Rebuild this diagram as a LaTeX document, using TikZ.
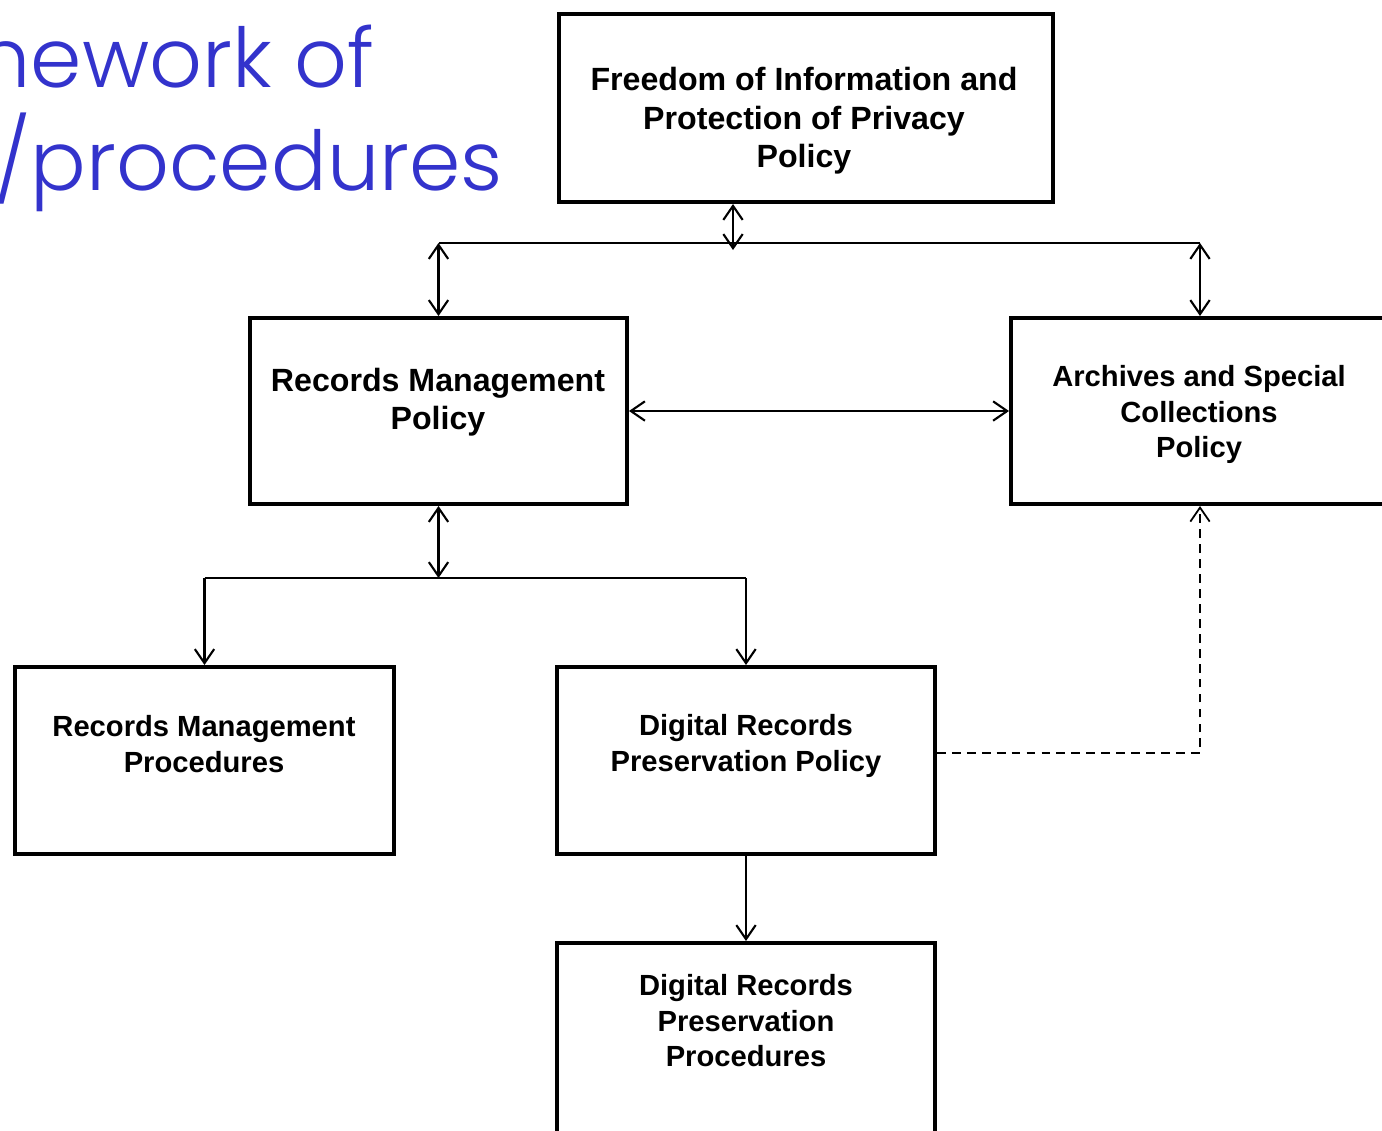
\documentclass[tikz,border=0pt]{standalone}
\usepackage{fontspec}
\setmainfont{Liberation Sans}
\newfontfamily\titlefont{Poppins}[UprightFont={* Light}]
\usepackage{xcolor}
\usetikzlibrary{arrows.meta,positioning}
\definecolor{titleblue}{RGB}{51,51,204}
\tikzset{%
	box/.style      = {draw, rectangle, line width=2.3pt, minimum width=7.56cm, minimum height=3.74cm},
	boxtext/.style  = {align=center, inner sep=0pt, font=\bfseries\fontsize{16.6}{20.2}\selectfont},
	bigtext/.style  = {boxtext, font=\bfseries\fontsize{18.3}{21.9}\selectfont},
	title/.style    = {inner sep=0pt, text=titleblue, font=\titlefont\fontsize{47}{56}\selectfont},
	link/.style     = {line width=1.2pt},
	dlink/.style    = {link, {Straight Barb[length=8pt,width=11pt]}-{Straight Barb[length=8pt,width=11pt]}},
	arrowto/.style  = {link, -{Straight Barb[length=8pt,width=11pt]}},
	dashlink/.style = {line width=1pt, dash pattern=on 5pt off 3.5pt, -{Straight Barb[length=8pt,width=11pt]}},
}
\begin{document}
\begin{tikzpicture}[x=0.02cm,y=-0.02cm]
			\clip (0,0) rectangle (1382,1130);
			% title
			\node[title, anchor=base east] (titletop) at (375,87) {nework of};
			\node[title, anchor=base east] (titlebot) at (503,190) {/procedures};
			% boxes
			\node[box, minimum width=9.88cm, minimum height=3.76cm] (foi) at (806,108) {};
			\node[box, minimum width=7.54cm, minimum height=3.72cm] (rmp) at (438.5,411) {};
			\node[box, minimum height=3.72cm] (asc) at (1200,411) {};
			\node[box, minimum width=7.58cm] (rmproc) at (204.5,760.5) {};
			\node[box] (drpp) at (746,760.5) {};
			\node[box, minimum height=4.2cm] (drpproc) at (746,1048) {};
			% texts
			\node[bigtext] (foitext) at (804,121) {Freedom of Information and\\Protection of Privacy\\Policy};
			\node[bigtext] (rmptext) at (438,402) {Records Management\\Policy};
			\node[boxtext] (asctext) at (1199,414.5) {Archives and Special\\Collections\\Policy};
			\node[boxtext] (rmproctext) at (204,744) {Records Management\\Procedures};
			\node[boxtext] (drpptext) at (746,746) {Digital Records\\Preservation Policy};
			\node[boxtext] (drpproctext) at (746,1021) {Digital Records\\Preservation\\Procedures};
			% connectors
			\coordinate (topbus) at (733,243);
			\coordinate (foitap) at (733,250);
			\coordinate (midbus) at (438,578);
			\coordinate (dashturn) at (1200,753);
			\draw[link] (rmp.north |- topbus) -- (asc.north |- topbus);
			\draw[dlink] (foitap |- foi.south) -- (foitap);
			\draw[dlink] (rmp.north |- topbus) -- (rmp.north);
			\draw[dlink] (asc.north |- topbus) -- (asc.north);
			\draw[dlink] (rmp) -- (asc);
			\draw[dlink] (rmp.south) -- (rmp.south |- midbus);
			\draw[link] (rmproc.north |- midbus) -- (drpp.north |- midbus);
			\draw[arrowto] (rmproc.north |- midbus) -- (rmproc.north);
			\draw[arrowto] (drpp.north |- midbus) -- (drpp.north);
			\draw[arrowto] (drpp) -- (drpproc);
			\draw[dashlink] (drpp.east |- dashturn) -- (dashturn) -- (asc.south);
			\end{tikzpicture}
\end{document}
